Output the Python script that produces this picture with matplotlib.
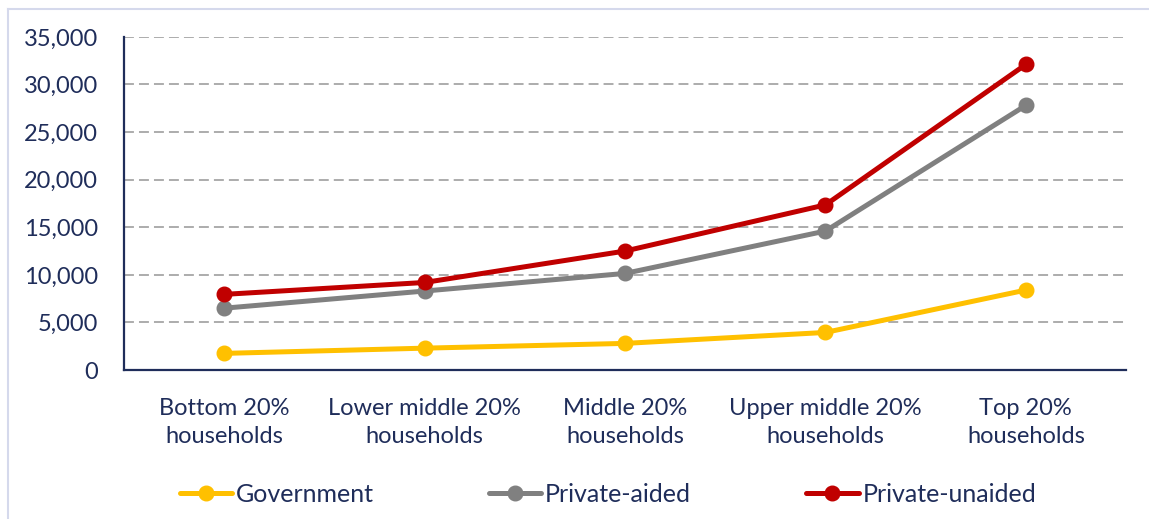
import matplotlib.pyplot as plt
from matplotlib.lines import Line2D
from matplotlib.ticker import FuncFormatter

categories = ["Bottom 20%\nhouseholds", "Lower middle 20%\nhouseholds", "Middle 20%\nhouseholds",
              "Upper middle 20%\nhouseholds", "Top 20%\nhouseholds"]
government = [1750, 2300, 2800, 3950, 8400]
private_aided = [6500, 8300, 10150, 14600, 27800]
private_unaided = [7950, 9200, 12500, 17350, 32100]

navy = "#1F2D5A"
plt.rcParams['font.family'] = ['Lato', 'DejaVu Sans']

fig = plt.figure(figsize=(11.49, 5.19), dpi=100)
ax = fig.add_axes([0.108, 0.287, 0.872, 0.642])

x = range(len(categories))
series = [(government, "#FFC000", "Government"),
          (private_aided, "#808080", "Private-aided"),
          (private_unaided, "#C00000", "Private-unaided")]
for vals, col, name in series:
    ax.plot(x, vals, color=col, lw=3.6, marker="o", ms=10.5, label=name, solid_capstyle="round")

ax.set_xlim(-0.5, 4.5)
ax.set_ylim(0, 35000)
ax.set_yticks(range(0, 35001, 5000))
ax.yaxis.set_major_formatter(FuncFormatter(lambda v, p: f"{int(v):,}"))
ax.set_xticks(list(x))
ax.set_xticklabels(categories, linespacing=1.45)
ax.grid(axis="y", color="#A6A6A6", ls=(0, (5.5, 2.8)), lw=1.3)
ax.set_axisbelow(True)
for s in ["top", "right"]:
    ax.spines[s].set_visible(False)
for s in ["left", "bottom"]:
    ax.spines[s].set_color(navy)
    ax.spines[s].set_linewidth(1.6)
ax.tick_params(length=0, labelsize=17, colors=navy)
ax.tick_params(axis="y", pad=19)
ax.tick_params(axis="x", pad=20)

fig.legend(loc="center", bbox_to_anchor=(0.529, 0.048), ncol=3, frameon=False,
           fontsize=18, labelcolor=navy, handlelength=2.1, handletextpad=0.15,
           columnspacing=4.6)

# thin frame along left and top edges
fig.add_artist(Line2D([8/1149, 8/1149], [0, 1 - 9/519], color="#D5D9EC", lw=1.5))
fig.add_artist(Line2D([8/1149, 1], [1 - 9/519, 1 - 9/519], color="#D5D9EC", lw=1.5))

fig.savefig("out.png", dpi=100)
